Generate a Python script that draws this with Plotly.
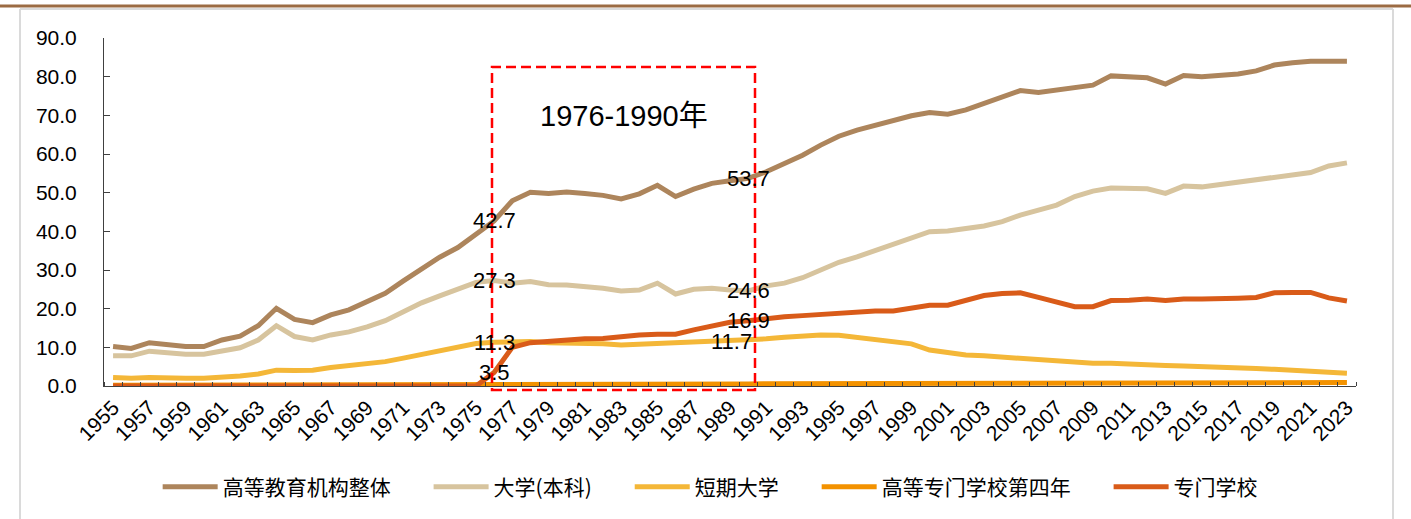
import plotly.graph_objects as go

years = list(range(1955, 2024))

overall = [10.2, 9.7, 11.2, 10.6, 10.2, 10.2, 11.9, 12.9, 15.6, 20.1,
           17.2, 16.4, 18.4, 19.7, 21.8, 24.0, 27.2, 30.4, 33.3, 35.8,
           39.2, 42.7, 47.9, 50.1, 49.8, 50.2, 49.8, 49.3, 48.4, 49.7,
           51.9, 49.0, 50.9, 52.4, 53.1, 53.7, 55.4, 57.4, 59.7, 62.3,
           64.6, 66.2, 67.5, 68.5, 69.9, 70.7, 70.3, 71.4, 73.1, 74.8,
           76.4, 75.9, 76.5, 77.0, 77.8, 80.2, 80.0, 79.7, 78.1, 80.3,
           80.0, 80.3, 80.7, 81.5, 83.0, 83.6, 84.0, 84.0, 84.0]
university = [7.8, 7.8, 9.0, 8.6, 8.2, 8.2, 9.1, 9.9, 11.9, 15.6,
              12.8, 11.9, 13.2, 14.0, 15.3, 16.9, 19.2, 21.5, 23.3, 25.0,
              26.8, 27.3, 26.6, 27.0, 26.2, 26.1, 25.8, 25.3, 24.6, 24.8,
              26.6, 23.8, 25.0, 25.3, 24.8, 24.6, 25.9, 26.6, 28.0, 30.0,
              32.0, 33.4, 35.0, 36.6, 38.4, 39.9, 40.1, 40.6, 41.4, 42.5,
              44.2, 45.5, 46.8, 49.0, 50.4, 51.2, 51.2, 51.0, 49.8, 51.7,
              51.5, 52.1, 52.8, 53.6, 54.0, 54.7, 55.2, 56.9, 57.7]
junior = [2.2, 2.0, 2.2, 2.0, 2.0, 2.0, 2.2, 2.6, 3.1, 4.1,
          4.0, 4.1, 4.8, 5.2, 5.9, 6.3, 7.2, 8.2, 9.3, 10.2,
          11.0, 11.3, 11.5, 11.5, 11.2, 11.2, 11.0, 10.9, 10.6, 10.8,
          11.0, 11.0, 11.2, 11.3, 11.5, 11.7, 12.2, 12.6, 12.9, 13.2,
          13.1, 12.6, 12.2, 11.6, 10.9, 9.3, 8.5, 8.0, 7.8, 7.5,
          7.2, 6.7, 6.5, 6.1, 5.9, 5.9, 5.6, 5.4, 5.3, 5.2,
          5.1, 4.8, 4.7, 4.5, 4.3, 4.1, 3.9, 3.6, 3.3]
kosen = [0.2, 0.2, 0.2, 0.2, 0.2, 0.2, 0.2, 0.2, 0.2, 0.2,
         0.3, 0.3, 0.3, 0.3, 0.4, 0.4, 0.4, 0.4, 0.5, 0.5,
         0.5, 0.5, 0.5, 0.5, 0.5, 0.5, 0.5, 0.5, 0.5, 0.5,
         0.5, 0.5, 0.5, 0.5, 0.5, 0.5, 0.6, 0.6, 0.6, 0.6,
         0.6, 0.6, 0.6, 0.6, 0.7, 0.7, 0.7, 0.7, 0.7, 0.7,
         0.7, 0.8, 0.8, 0.8, 0.8, 0.8, 0.8, 0.8, 0.8, 0.8,
         0.8, 0.8, 0.9, 0.9, 0.9, 0.9, 0.9, 0.9, 0.9]
senmon = [0, 0, 0, 0, 0, 0, 0, 0, 0, 0,
          0, 0, 0, 0, 0, 0, 0, 0, 0, 0,
          0, 3.5, 10.0, 11.2, 11.6, 11.9, 12.2, 12.3, 12.8, 13.2,
          13.4, 13.4, 14.5, 15.6, 16.5, 16.9, 17.5, 17.9, 18.2, 18.5,
          19.0, 19.4, 19.4, 19.4, 20.1, 20.9, 20.9, 22.1, 23.4, 23.9,
          24.1, 22.9, 21.6, 20.5, 20.5, 22.1, 22.2, 22.5, 22.1, 22.5,
          22.5, 22.5, 22.7, 22.9, 24.1, 24.2, 24.2, 22.8, 22.0]

series = [
    ("高等教育机构整体", overall, "#AD855C"),
    ("大学(本科)", university, "#D7C49E"),
    ("短期大学", junior, "#F4B738"),
    ("高等专门学校第四年", kosen, "#F39200"),
    ("专门学校", senmon, "#D95B19"),
]

# labelled years inside the highlighted period
label_years = [1976, 1990]
labelled = [overall, university, junior, senmon]

W, H = 1411, 519
L, R, T, B = 104, 1356, 38, 386


def px_x(X):
    return (X - L) / (R - L)


def px_y(Y):
    return (B - Y) / (B - T)


PAD = "\u00a0" * 7  # extra room between legend entries

fig = go.Figure()
for name, vals, col in series:
    fig.add_trace(go.Scatter(
        x=years, y=vals, name=name + PAD, mode="lines",
        line=dict(color=col, width=5),
        cliponaxis=False,
    ))

ann = []
for vals in labelled:
    for yr in label_years:
        v = vals[years.index(yr)]
        right = (vals is junior and yr == 1990)
        ann.append(dict(
            x=yr + (0.3 if right else 0), y=v - (0.3 if right else 0),
            xref="x", yref="y",
            text=f"{v:.1f}", showarrow=False,
            xanchor="right" if right else "center", yanchor="middle",
            font=dict(size=22, color="black", family="Liberation Sans, Arial"),
        ))

ann.append(dict(
    x=px_x(624), y=px_y(116), xref="paper", yref="paper",
    text="1976-1990年", showarrow=False, xanchor="center", yanchor="middle",
    font=dict(size=29, color="black", family="Liberation Sans, Noto Sans CJK SC"),
))

shapes = [
    # top brown rule
    dict(type="line", xref="paper", yref="paper",
         x0=px_x(0), x1=px_x(W), y0=px_y(6), y1=px_y(6),
         line=dict(color="#9B6B43", width=3)),
    # grey frame
    dict(type="line", xref="paper", yref="paper",
         x0=px_x(20), x1=px_x(1393), y0=px_y(9), y1=px_y(9),
         line=dict(color="#DADADA", width=2)),
    dict(type="line", xref="paper", yref="paper",
         x0=px_x(20), x1=px_x(20), y0=px_y(9), y1=px_y(W),
         line=dict(color="#DADADA", width=2)),
    dict(type="line", xref="paper", yref="paper",
         x0=px_x(1393), x1=px_x(1393), y0=px_y(9), y1=px_y(W),
         line=dict(color="#DADADA", width=2)),
    # highlighted period
    dict(type="rect", xref="paper", yref="paper",
         x0=px_x(492), x1=px_x(755), y0=px_y(390), y1=px_y(67),
         line=dict(color="#FF0000", width=2.5, dash="10px,5px")),
]

fig.update_layout(
    width=W, height=H,
    margin=dict(l=L, r=W - R, t=T, b=H - B),
    paper_bgcolor="white", plot_bgcolor="white",
    font=dict(family="Liberation Sans, Arial, Noto Sans CJK SC", color="black"),
    showlegend=True,
    legend=dict(
        orientation="h", xref="container", yref="container",
        x=0.515, y=(H - 487) / H, xanchor="center", yanchor="middle",
        font=dict(size=21, family="Noto Sans CJK SC", color="black"),
        itemwidth=55, traceorder="normal",
    ),
    annotations=ann,
    shapes=shapes,
)

fig.update_xaxes(
    range=[1954.5, 2023.5], tick0=1955, dtick=2, ticks="",
    tickangle=-45, tickfont=dict(size=21, color="black"),
    showline=True, linecolor="#404040", linewidth=1,
    showgrid=False, zeroline=False,
    minor=dict(tick0=1954.5, dtick=1, ticks="inside", ticklen=4,
               tickcolor="#404040", showgrid=False),
)
fig.update_yaxes(
    range=[0, 90], dtick=10, tickformat=".1f",
    ticks="inside", ticklen=6, tickcolor="#404040",
    tickfont=dict(size=21, color="black"), ticklabelstandoff=22,
    showline=True, linecolor="#404040", linewidth=1,
    showgrid=False, zeroline=False,
)

# drop the page's default body margin so the figure sits at the window origin
fig.write_html("out.html", config={"displayModeBar": False},
               post_script="document.body.style.margin='0px';")
